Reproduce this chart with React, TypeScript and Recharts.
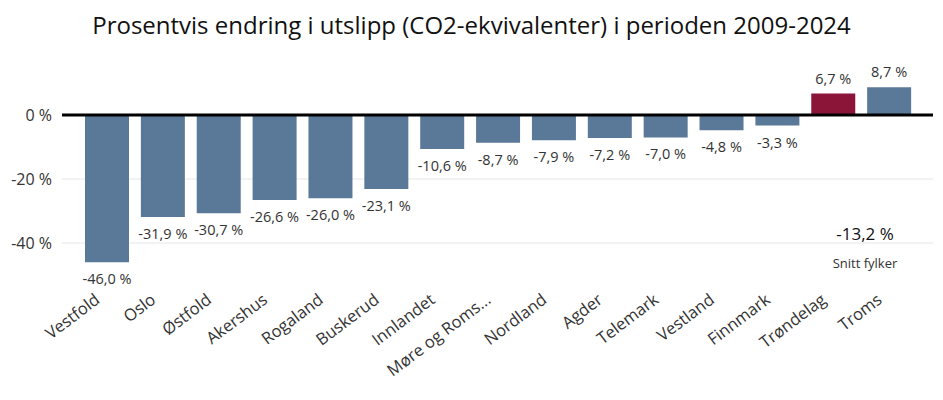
import { Bar, BarChart, CartesianGrid, Cell, LabelList, ReferenceLine, XAxis, YAxis } from "recharts";

const fylker = [
  "Vestfold", "Oslo", "Østfold", "Akershus", "Rogaland", "Buskerud", "Innlandet",
  "Møre og Roms...", "Nordland", "Agder", "Telemark", "Vestland", "Finnmark", "Trøndelag", "Troms",
];
const endring = [-46.0, -31.9, -30.7, -26.6, -26.0, -23.1, -10.6, -8.7, -7.9, -7.2, -7.0, -4.8, -3.3, 6.7, 8.7];
const yTicks = [-40, -20, 0];
const snitt = -13.2;

const font = "'Segoe UI', 'Open Sans', sans-serif";
const pct = (v: number) => `${v.toFixed(1).replace(".", ",")} %`;

const rows = fylker.map((name, i) => ({ name, value: endring[i] }));

function XTick({ x, y, payload }: any) {
  const ax = x - 6;
  const ay = y + 19;
  return (
    <text x={ax} y={ay} transform={`rotate(-37, ${ax}, ${ay})`} textAnchor="end"
      fontSize={16.5} fill="#333" fontFamily={font}>
      {payload.value}
    </text>
  );
}

function ValueLabel({ x, y, width, height, value }: any) {
  const top = Math.min(y, y + height);
  const bottom = Math.max(y, y + height);
  const ty = value < 0 ? bottom + 22 : top - 10;
  return (
    <text x={x + width / 2} y={ty} textAnchor="middle" fontSize={14.5} fill="#333" fontFamily={font}>
      {pct(value)}
    </text>
  );
}

export default function App() {
  return (
    <div style={{ position: "absolute", left: 0, top: 0, width: 943, height: 400, background: "#fff", fontFamily: font }}>
      <div style={{ position: "absolute", top: 8, width: 943, textAlign: "center", fontSize: 24, color: "#111" }}>
        Prosentvis endring i utslipp (CO2-ekvivalenter) i perioden 2009-2024
      </div>
      <BarChart width={943} height={400} data={rows} margin={{ top: 83, right: 10, bottom: 0, left: 0 }} barSize={44}>
        <CartesianGrid vertical={false} stroke="#e6e6e6" horizontalValues={[-40, -20]} />
        <XAxis dataKey="name" interval={0} height={125} tick={<XTick />} tickLine={false} axisLine={false}
          padding={{ left: 17, right: 16 }} />
        <YAxis domain={[-50, 10]} ticks={yTicks} width={62} tickSize={0} tickMargin={10} axisLine={false}
          tickFormatter={(v) => `${v} %`} tick={{ fontSize: 16, fill: "#333", fontFamily: font }} />
        <Bar dataKey="value" isAnimationActive={false}>
          {rows.map((r) => (
            <Cell key={r.name} fill={r.name === "Trøndelag" ? "#8b1538" : "#5a7999"} />
          ))}
          <LabelList dataKey="value" content={<ValueLabel />} />
        </Bar>
        <ReferenceLine y={0} stroke="#000" strokeWidth={3} />
      </BarChart>
      <div style={{ position: "absolute", left: 805, width: 120, top: 222, textAlign: "center", fontSize: 17, color: "#111" }}>
        {pct(snitt)}
      </div>
      <div style={{ position: "absolute", left: 805, width: 120, top: 254, textAlign: "center", fontSize: 13, color: "#333" }}>
        Snitt fylker
      </div>
    </div>
  );
}
